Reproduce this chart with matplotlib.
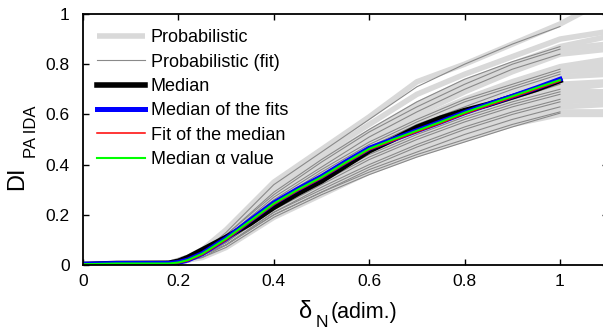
import matplotlib
matplotlib.use("Agg")
import matplotlib.pyplot as plt

plt.rcParams['font.family'] = ['Liberation Sans', 'DejaVu Sans']

# ---- data ----
x_prob = [0, 0.18, 0.22, 0.25, 0.3, 0.4, 0.5, 0.6, 0.7, 0.8, 0.9, 1.0, 1.1]
prob_curves = [
    [0, 0.005, 0.03, 0.06, 0.14, 0.33, 0.46, 0.59, 0.73, 0.80, 0.88, 0.96, 1.06],
    [0, 0.005, 0.03, 0.06, 0.13, 0.31, 0.44, 0.56, 0.68, 0.76, 0.83, 0.90, 0.93],
    [0, 0.005, 0.03, 0.06, 0.12, 0.29, 0.42, 0.53, 0.64, 0.73, 0.80, 0.87, 0.91],
    [0, 0.005, 0.03, 0.05, 0.12, 0.28, 0.40, 0.52, 0.62, 0.71, 0.79, 0.86, 0.88],
    [0, 0.005, 0.03, 0.05, 0.11, 0.27, 0.39, 0.50, 0.60, 0.69, 0.77, 0.84, 0.86],
    [0, 0.005, 0.03, 0.05, 0.11, 0.26, 0.38, 0.49, 0.58, 0.66, 0.73, 0.79, 0.82],
    [0, 0.005, 0.02, 0.05, 0.10, 0.25, 0.37, 0.48, 0.57, 0.65, 0.72, 0.78, 0.80],
    [0, 0.005, 0.02, 0.05, 0.10, 0.25, 0.36, 0.47, 0.56, 0.64, 0.71, 0.77, 0.78],
    [0, 0.005, 0.02, 0.05, 0.10, 0.24, 0.35, 0.46, 0.55, 0.62, 0.69, 0.75, 0.76],
    [0, 0.005, 0.02, 0.04, 0.10, 0.24, 0.35, 0.45, 0.53, 0.61, 0.67, 0.72, 0.73],
    [0, 0.005, 0.02, 0.04, 0.09, 0.23, 0.34, 0.44, 0.52, 0.59, 0.65, 0.70, 0.72],
    [0, 0.005, 0.02, 0.04, 0.09, 0.23, 0.33, 0.43, 0.51, 0.58, 0.64, 0.69, 0.69],
    [0, 0.005, 0.02, 0.04, 0.09, 0.22, 0.32, 0.41, 0.49, 0.56, 0.62, 0.67, 0.67],
    [0, 0.005, 0.02, 0.04, 0.08, 0.21, 0.31, 0.40, 0.48, 0.55, 0.60, 0.65, 0.66],
    [0, 0.005, 0.02, 0.04, 0.08, 0.21, 0.30, 0.39, 0.46, 0.53, 0.58, 0.63, 0.64],
    [0, 0.005, 0.02, 0.04, 0.08, 0.20, 0.29, 0.38, 0.45, 0.51, 0.57, 0.61, 0.61],
    [0, 0.005, 0.02, 0.03, 0.07, 0.19, 0.28, 0.37, 0.44, 0.50, 0.56, 0.60, 0.60],
]

x_fit = [0, 0.2, 0.25, 0.3, 0.4, 0.5, 0.6, 0.7, 0.8, 0.9, 1.0]
fit_curves = [
    [0.005, 0.01, 0.05, 0.13, 0.32, 0.45, 0.58, 0.71, 0.80, 0.88, 0.95],
    [0.005, 0.01, 0.05, 0.12, 0.29, 0.42, 0.54, 0.65, 0.74, 0.81, 0.87],
    [0.005, 0.01, 0.05, 0.12, 0.28, 0.41, 0.53, 0.63, 0.72, 0.80, 0.86],
    [0.005, 0.01, 0.05, 0.11, 0.27, 0.39, 0.51, 0.61, 0.70, 0.78, 0.84],
    [0.005, 0.01, 0.05, 0.11, 0.26, 0.38, 0.49, 0.58, 0.66, 0.72, 0.78],
    [0.005, 0.01, 0.05, 0.10, 0.25, 0.37, 0.48, 0.57, 0.65, 0.71, 0.77],
    [0.005, 0.01, 0.04, 0.10, 0.24, 0.36, 0.47, 0.56, 0.63, 0.70, 0.76],
    [0.005, 0.01, 0.04, 0.10, 0.24, 0.35, 0.45, 0.53, 0.60, 0.66, 0.72],
    [0.005, 0.01, 0.04, 0.09, 0.23, 0.34, 0.44, 0.52, 0.59, 0.65, 0.70],
    [0.005, 0.01, 0.04, 0.09, 0.23, 0.33, 0.43, 0.51, 0.58, 0.64, 0.69],
    [0.005, 0.01, 0.04, 0.09, 0.22, 0.32, 0.42, 0.50, 0.57, 0.63, 0.68],
    [0.005, 0.01, 0.04, 0.08, 0.21, 0.31, 0.40, 0.48, 0.55, 0.61, 0.66],
    [0.005, 0.01, 0.04, 0.08, 0.21, 0.30, 0.39, 0.47, 0.54, 0.60, 0.65],
    [0.005, 0.01, 0.04, 0.08, 0.20, 0.29, 0.38, 0.45, 0.52, 0.58, 0.63],
    [0.005, 0.01, 0.03, 0.08, 0.20, 0.29, 0.37, 0.44, 0.50, 0.56, 0.61],
    [0.005, 0.01, 0.03, 0.07, 0.19, 0.28, 0.36, 0.43, 0.49, 0.55, 0.605],
]

x_med = [0, 0.07, 0.18, 0.2, 0.22, 0.25, 0.3, 0.35, 0.4, 0.45, 0.5, 0.55,
         0.6, 0.65, 0.7, 0.75, 0.8, 0.85, 0.9, 0.95, 1.0]
median = [0.002, 0.006, 0.007, 0.015, 0.03, 0.06, 0.11, 0.165, 0.23, 0.285,
          0.335, 0.395, 0.455, 0.50, 0.548, 0.585, 0.615, 0.64, 0.67, 0.70, 0.735]
median_fits = [0.003, 0.006, 0.006, 0.01, 0.02, 0.045, 0.105, 0.177, 0.247, 0.302,
               0.352, 0.41, 0.465, 0.50, 0.535, 0.57, 0.607, 0.64, 0.672, 0.705, 0.74]
fit_median = [0.002, 0.005, 0.005, 0.008, 0.017, 0.041, 0.10, 0.171, 0.241, 0.296,
              0.346, 0.404, 0.459, 0.495, 0.53, 0.565, 0.602, 0.635, 0.667, 0.70, 0.733]
median_alpha = [0.003, 0.006, 0.006, 0.01, 0.02, 0.045, 0.105, 0.175, 0.245, 0.30,
                0.35, 0.408, 0.463, 0.50, 0.535, 0.57, 0.607, 0.64, 0.672, 0.705, 0.737]

xticks = [0, 0.2, 0.4, 0.6, 0.8, 1]
yticks = [0, 0.2, 0.4, 0.6, 0.8, 1]
tick_labels = ['0', '0.2', '0.4', '0.6', '0.8', '1']

# ---- figure ----
W, H = 603, 331
fig = plt.figure(figsize=(W / 100, H / 100), dpi=100)
left, right, top, bottom = 83, 607.7, 14, 265
ax = fig.add_axes([left / W, (H - bottom) / H, (right - left) / W, (bottom - top) / H])

for i, c in enumerate(prob_curves):
    ax.plot(x_prob, c, color='#d9d9d9', lw=4, solid_capstyle='butt',
            label='Probabilistic' if i == 0 else None)
for i, c in enumerate(fit_curves):
    ax.plot(x_fit, c, color='#8a8a8a', lw=0.8,
            label='Probabilistic (fit)' if i == 0 else None)
ax.plot(x_med, median, color='black', lw=4, label='Median')
ax.plot(x_med, median_fits, color='#0000ff', lw=3.6, label='Median of the fits')
ax.plot(x_med, fit_median, color='#ff0000', lw=1.1, label='Fit of the median')
ax.plot(x_med, median_alpha, color='#00ff00', lw=1.5, label='Median α value')

ax.set_xlim(0, 1.1)
ax.set_ylim(0, 1)
ax.set_xticks(xticks)
ax.set_xticklabels(tick_labels)
ax.set_yticks(yticks)
ax.set_yticklabels(tick_labels)
ax.tick_params(direction='in', length=4.5, width=1, labelsize=12.5,
               top=True, right=True)
ax.tick_params(axis='x', pad=6.5)
ax.tick_params(axis='y', pad=9.5)
for s in ax.spines.values():
    s.set_linewidth(1.3)

# axis labels (main text + lowered subscript), positioned in pixels
def px(x, y):
    return x / W, (H - y) / H

fig.text(*px(17, 178), 'DI', rotation=90, fontsize=17, ha='center', va='center')
fig.text(*px(32, 132), 'PA IDA', rotation=90, fontsize=12, ha='center', va='center')
fig.text(*px(299, 318), 'δ', fontsize=17, ha='left', va='baseline')
fig.text(*px(316, 327), 'N', fontsize=12.5, ha='left', va='baseline')
fig.text(*px(331, 318), '(adim.)', fontsize=15.5, ha='left', va='baseline')

leg = ax.legend(loc='upper left',
                bbox_to_anchor=((97 - left) / (right - left), (bottom - 29.5) / (bottom - top)),
                frameon=False, fontsize=13, handlelength=2.66, handletextpad=0.33,
                labelspacing=0.405, borderpad=0, borderaxespad=0)

fig.savefig('out.png', dpi=100)
